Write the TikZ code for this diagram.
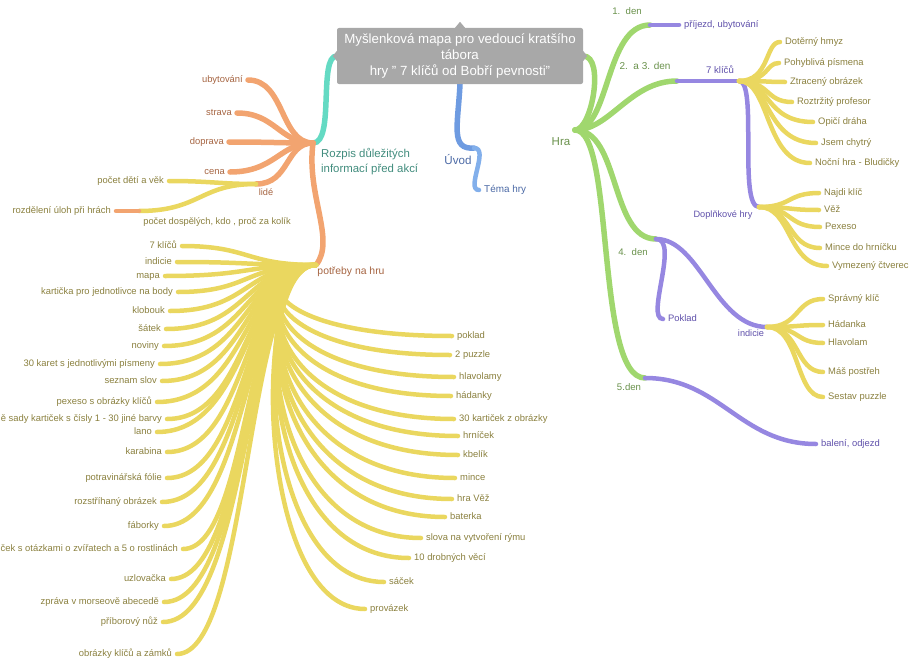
\documentclass[tikz,border=0pt]{standalone}
\usepackage{fontspec}
\setmainfont{Liberation Sans}
\usetikzlibrary{backgrounds}
\definecolor{corange}{RGB}{242,164,112}
\definecolor{cyel}{RGB}{234,215,95}
\definecolor{cteal}{RGB}{100,218,195}
\definecolor{cgreen}{RGB}{160,215,110}
\definecolor{cpurp}{RGB}{150,135,225}
\definecolor{cblue}{RGB}{110,155,225}
\definecolor{cblueb}{RGB}{130,175,235}
\definecolor{cgray}{RGB}{168,168,168}
\definecolor{tyel}{RGB}{138,128,62}
\definecolor{torg}{RGB}{165,100,65}
\definecolor{tteal}{RGB}{65,140,125}
\definecolor{tgreen}{RGB}{105,145,75}
\definecolor{tpurp}{RGB}{95,80,170}
\definecolor{tblue}{RGB}{75,105,165}
\tikzset{
  br/.style={line width=4.5pt, line cap=round},
  bigbr/.style={line width=5.5pt, line cap=round},
  lbl/.style={inner sep=0pt, font=\fontsize{9.4}{10}\selectfont, text height=7pt, text depth=2pt},
  leafE/.style={lbl, anchor=east, inner xsep=5pt},
  leafW/.style={lbl, anchor=west, inner xsep=5pt},
}
\begin{document}
\begin{tikzpicture}[x=1pt,y=-1pt]
\useasboundingbox (0,0) rectangle (918,661);

% central node
\node[fill=cgray, rounded corners=2pt, minimum width=246pt, minimum height=56pt,
      align=center, text=white, inner sep=0pt, font=\fontsize{13.3}{16}\selectfont]
      (root) at (460,56) {Myšlenková mapa pro vedoucí kratšího\\tábora\\hry " 7 klíčů od Bobří pevnosti"};
\fill[cgray] (root.north) ++(-5,0) -- ++(5,-6) -- ++(5,6) -- cycle;
\fill[cgray] (root.west) ++(0,-5) -- ++(-4,5) -- ++(4,5) -- cycle;
\fill[cgray] (root.east) ++(0,-5) -- ++(4,5) -- ++(-4,5) -- cycle;

% coordinates of inner nodes
\coordinate (rozpis) at (313,143);
\coordinate (lide) at (256,184);
\coordinate (dosp) at (139,211);
\coordinate (need) at (316,265);
\coordinate (hra) at (575,130);
\coordinate (d1) at (650,25);
\coordinate (d23) at (677,81);
\coordinate (k7) at (739,81);
\coordinate (dh) at (759,207);
\coordinate (d4) at (656,239);
\coordinate (ind) at (767,327);
\coordinate (d5) at (645,378);
\coordinate (uvod) at (474,148);

% labels of inner nodes
\node[inner sep=0pt, anchor=north west, align=left, text=tteal, font=\fontsize{11.4}{15}\selectfont] (Lrozpis) at (321,148) {Rozpis důležitých\\informací před akcí};
\node[lbl, text=torg, font=\fontsize{9.2}{10}\selectfont] (Llide) at (266,193) {lidé};
\node[lbl, text=tyel, font=\fontsize{9.3}{10}\selectfont] (Ldosp) at (217,222) {počet dospělých, kdo , proč za kolík};
\node[lbl, text=torg, font=\fontsize{10.4}{11}\selectfont] (Lneed) at (351,272) {potřeby na hru};
\node[inner sep=0pt, text=tgreen, font=\fontsize{11.5}{12}\selectfont] (Lhra) at (561,142) {Hra};
\node[lbl, text=tgreen, font=\fontsize{9.6}{10}\selectfont] (L1) at (627,12) {1.\ \ den};
\node[lbl, text=tgreen, font=\fontsize{10}{10}\selectfont] (L23) at (645,67) {2.\ \ a 3. den};
\node[lbl, text=tpurp, font=\fontsize{9.6}{10}\selectfont] (Lk7) at (720,71) {7 klíčů};
\node[lbl, text=tpurp, font=\fontsize{9.2}{10}\selectfont] (Ldh) at (723,215) {Doplňkové hry};
\node[lbl, text=tgreen, font=\fontsize{9.6}{10}\selectfont] (L4) at (633,253) {4.\ \ den};
\node[lbl, text=tpurp, font=\fontsize{9.2}{10}\selectfont] (Lind) at (751,334) {indicie};
\node[lbl, text=tgreen, font=\fontsize{9.6}{10}\selectfont] (L5) at (629,388) {5.den};
\node[inner sep=0pt, text=tblue, font=\fontsize{11.6}{12}\selectfont] (Luvod) at (458,160) {Úvod};

% single leaves
\node[leafE, text=torg] (ub) at (248,80) {ubytování};
\node[leafE, text=torg] (strava) at (237,113) {strava};
\node[leafE, text=torg] (doprava) at (229,142) {doprava};
\node[leafE, text=torg] (cena) at (230,172) {cena};
\node[leafE, text=tyel] (deti) at (169,181) {počet dětí a věk};
\node[leafE, text=tyel] (rozd) at (116,211) {rozdělení úloh při hrách};
\node[leafW, text=tpurp] (prij) at (679,25) {příjezd, ubytování};
\node[leafW, text=tpurp] (poklad) at (663,319) {Poklad};
\node[leafW, text=tpurp] (baleni) at (816,444) {balení, odjezd};
\node[leafW, text=tblue, font=\fontsize{9.9}{10}\selectfont] (tema) at (479,190) {Téma hry};

\begin{scope}[on background layer]
% first level
\draw[bigbr, cteal] (root.west) .. controls (318,56) and (335,143) .. (rozpis);
\draw[bigbr, cgreen] (root.east) .. controls (605,56) and (592,130) .. (hra);
\draw[bigbr, cblue] (root.south) .. controls (458,125) and (450,150) .. (uvod);
\end{scope}

% orange
\draw[bigbr, corange] (rozpis) .. controls (280,143) and (285,80) .. (ub.east);
\draw[bigbr, corange] (rozpis) .. controls (280,143) and (275,113) .. (strava.east);
\draw[bigbr, corange] (rozpis) .. controls (280,143) and (270,142) .. (doprava.east);
\draw[bigbr, corange] (rozpis) .. controls (280,143) and (275,172) .. (cena.east);
\draw[bigbr, corange] (rozpis) .. controls (285,143) and (290,184) .. (lide);
\draw[bigbr, corange] (rozpis) .. controls (306,195) and (336,240) .. (need);
\draw[br, cyel] (lide) .. controls (220,184) and (210,181) .. (deti.east);
\draw[br, cyel] (lide) .. controls (200,184) and (200,211) .. (dosp);
\draw[br, corange] (dosp) -- (rozd.east);

% yellow left leaves of potreby
\foreach \t/\x/\y [count=\i] in {
 {7 klíčů}/182/246, {indicie}/177/262, {mapa}/165/276,
 {kartička pro jednotlivce na body}/178/292, {klobouk}/170/311,
 {šátek}/166/329, {noviny}/164/346, {30 karet s jednotlivými písmeny}/160/364,
 {seznam slov}/162/381, {pexeso s obrázky klíčů}/157/402,
 {ě sady kartiček s čísly 1 - 30 jiné barvy}/167/419, {lano}/157/432,
 {karabina}/167/452, {potravinářská fólie}/167/478, {rozstříhaný obrázek}/162/502,
 {fáborky}/164/526, {ček s otázkami o zvířatech a 5 o rostlinách}/183/549,
 {uzlovačka}/171/579, {zpráva v morseově abecedě}/164/602,
 {příborový nůž}/163/622, {obrázky klíčů a zámků}/177/654} {
  \node[leafE, text=tyel] (yl\i) at (\x,\y) {\t};
  \draw[br, cyel] (need) .. controls (245,265) and (250,\y) .. (yl\i.east);
}
% yellow right leaves of potreby
\foreach \t/\x/\y [count=\i] in {
 {poklad}/452/336, {2 puzzle}/450/355, {hlavolamy}/454/377, {hádanky}/451/396,
 {30 kartiček z obrázky}/454/419, {hrníček}/458/436, {kbelík}/458/455,
 {mince}/455/478, {hra Věž}/452/499, {baterka}/445/517,
 {slova na vytvoření rýmu}/421/538, {10 drobných věcí}/409/558,
 {sáček}/384/582, {provázek}/365/609} {
  \node[leafW, text=tyel] (yr\i) at (\x,\y) {\t};
  \draw[br, cyel] (need) .. controls (250,265) and (255,\y) .. (yr\i.west);
}

% green
\draw[bigbr, cgreen] (hra) .. controls (610,130) and (605,25) .. (d1);
\draw[bigbr, cgreen] (hra) .. controls (610,130) and (630,81) .. (d23);
\draw[bigbr, cgreen] (hra) .. controls (620,130) and (610,239) .. (d4);
\draw[bigbr, cgreen] (hra) .. controls (615,130) and (595,378) .. (d5);

% purple
\draw[br, cpurp] (d1) -- (prij.west);
\draw[br, cpurp] (d23) -- (k7);
\draw[br, cpurp] (k7) .. controls (758,81) and (738,207) .. (dh);
\draw[br, cpurp] (d4) .. controls (680,239) and (645,319) .. (poklad.west);
\draw[br, cpurp] (d4) .. controls (700,239) and (715,327) .. (ind);
\draw[br, cpurp] (d5) .. controls (720,378) and (740,444) .. (baleni.west);

% light blue
\draw[br, cblueb] (uvod) .. controls (490,148) and (465,190) .. (tema.west);

% yellow of 7 klicu
\foreach \t/\x/\y [count=\i] in {
 {Dotěrný hmyz}/780/42, {Pohyblivá písmena}/779/63, {Ztracený obrázek}/785/82,
 {Roztržitý profesor}/792/102, {Opičí dráha}/813/122, {Jsem chytrý}/816/143,
 {Noční hra - Bludičky}/810/163} {
  \node[leafW, text=tyel] (ka\i) at (\x,\y) {\t};
  \draw[br, cyel] (k7) .. controls (770,81) and (765,\y) .. (ka\i.west);
}
% yellow of Doplnkove hry
\foreach \t/\x/\y [count=\i] in {
 {Najdi klíč}/819/193, {Věž}/819/210, {Pexeso}/820/227,
 {Mince do hrníčku}/820/248, {Vymezený čtverec}/827/266} {
  \node[leafW, text=tyel] (dp\i) at (\x,\y) {\t};
  \draw[br, cyel] (dh) .. controls (792,207) and (787,\y) .. (dp\i.west);
}
% yellow of indicie
\foreach \t/\x/\y [count=\i] in {
 {Správný klíč}/823/299, {Hádanka}/823/325, {Hlavolam}/823/343,
 {Máš postřeh}/823/372, {Sestav puzzle}/823/397} {
  \node[leafW, text=tyel] (in\i) at (\x,\y) {\t};
  \draw[br, cyel] (ind) .. controls (800,327) and (795,\y) .. (in\i.west);
}
\end{tikzpicture}
\end{document}
